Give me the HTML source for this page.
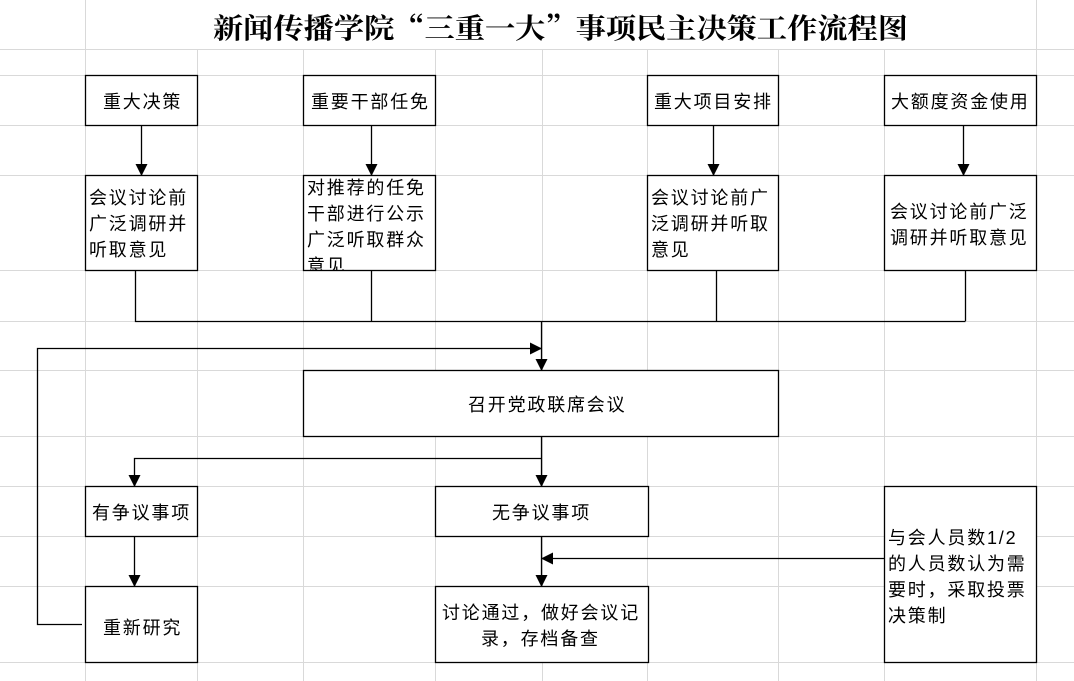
<!DOCTYPE html>
<html><head><meta charset="utf-8"><style>
html,body{margin:0;padding:0;background:#fff;width:1074px;height:681px;overflow:hidden}
text{font-family:"Liberation Sans","Noto Sans CJK SC",sans-serif;font-size:18px;letter-spacing:1.8px;fill:#000}
</style></head><body>
<svg width="1074" height="681" xmlns="http://www.w3.org/2000/svg">
<defs><marker id="a" markerWidth="12" markerHeight="12" refX="11" refY="6" orient="auto" markerUnits="userSpaceOnUse"><path d="M0,0 L12,6 L0,12 Z" fill="#000"/></marker></defs>
<g stroke="#d9d9d9" stroke-width="1">
<line x1="85.5" y1="0" x2="85.5" y2="681"/>
<line x1="197.5" y1="49" x2="197.5" y2="681"/>
<line x1="303.5" y1="49" x2="303.5" y2="681"/>
<line x1="435.5" y1="49" x2="435.5" y2="681"/>
<line x1="542.5" y1="49" x2="542.5" y2="681"/>
<line x1="647.5" y1="49" x2="647.5" y2="681"/>
<line x1="778.5" y1="49" x2="778.5" y2="681"/>
<line x1="884.5" y1="49" x2="884.5" y2="681"/>
<line x1="1036.5" y1="0" x2="1036.5" y2="681"/>
<line x1="0" y1="49.5" x2="1074" y2="49.5"/>
<line x1="0" y1="75.5" x2="1074" y2="75.5"/>
<line x1="0" y1="125.5" x2="1074" y2="125.5"/>
<line x1="0" y1="175.5" x2="1074" y2="175.5"/>
<line x1="0" y1="270.5" x2="1074" y2="270.5"/>
<line x1="0" y1="321.5" x2="1074" y2="321.5"/>
<line x1="0" y1="370.5" x2="1074" y2="370.5"/>
<line x1="0" y1="436.5" x2="1074" y2="436.5"/>
<line x1="0" y1="486.5" x2="1074" y2="486.5"/>
<line x1="0" y1="536.5" x2="1074" y2="536.5"/>
<line x1="0" y1="586.5" x2="1074" y2="586.5"/>
<line x1="0" y1="662.5" x2="1074" y2="662.5"/>
</g>
<text x="213" y="38" style="font-family:'Noto Serif CJK SC',serif;font-size:28px;font-weight:bold;letter-spacing:0" textLength="695" lengthAdjust="spacingAndGlyphs">新闻传播学院“三重一大”事项民主决策工作流程图</text>
<g fill="#fff" stroke="#000" stroke-width="1.3">
<rect x="85.5" y="75.5" width="112" height="50"/>
<rect x="303.5" y="75.5" width="132" height="50"/>
<rect x="647.5" y="75.5" width="131" height="50"/>
<rect x="884.5" y="75.5" width="152" height="50"/>
<rect x="85.5" y="175.5" width="112" height="95"/>
<rect x="303.5" y="175.5" width="132" height="95"/>
<rect x="647.5" y="175.5" width="131" height="95"/>
<rect x="884.5" y="175.5" width="152" height="95"/>
<rect x="303.5" y="370.5" width="475" height="66"/>
<rect x="85.5" y="486.5" width="112" height="50"/>
<rect x="435.5" y="486.5" width="213" height="50"/>
<rect x="85.5" y="586.5" width="112" height="76"/>
<rect x="435.5" y="586.5" width="213" height="76"/>
<rect x="884.5" y="486.5" width="152" height="176"/>
</g>
<g stroke="#000" stroke-width="1.3" fill="none">
<line x1="141.5" y1="126" x2="141.5" y2="175" marker-end="url(#a)"/>
<line x1="371.5" y1="126" x2="371.5" y2="175" marker-end="url(#a)"/>
<line x1="713.5" y1="126" x2="713.5" y2="175" marker-end="url(#a)"/>
<line x1="963.5" y1="126" x2="963.5" y2="175" marker-end="url(#a)"/>
<polyline points="135.5,271 135.5,321.5 965.5,321.5"/>
<line x1="371.5" y1="271" x2="371.5" y2="321"/>
<line x1="716.5" y1="271" x2="716.5" y2="321"/>
<line x1="965.5" y1="271" x2="965.5" y2="321"/>
<line x1="541.5" y1="321" x2="541.5" y2="370" marker-end="url(#a)"/>
<polyline points="82,624.5 37.5,624.5 37.5,348.5 541,348.5" marker-end="url(#a)"/>
<line x1="541.5" y1="437" x2="541.5" y2="486" marker-end="url(#a)"/>
<polyline points="541.5,458.5 134.5,458.5 134.5,486" marker-end="url(#a)"/>
<line x1="134.5" y1="537" x2="134.5" y2="586" marker-end="url(#a)"/>
<line x1="541.5" y1="537" x2="541.5" y2="586" marker-end="url(#a)"/>
<line x1="884" y1="558.5" x2="542" y2="558.5" marker-end="url(#a)"/>
</g>
<text x="103" y="108">重大决策</text>
<text x="311" y="108">重要干部任免</text>
<text x="654" y="108">重大项目安排</text>
<text x="891" y="108">大额度资金使用</text>
<text x="89" y="204">会议讨论前</text>
<text x="89" y="230">广泛调研并</text>
<text x="89" y="256">听取意见</text>
<svg x="304" y="176" width="131" height="94" overflow="hidden">
<text x="3" y="18">对推荐的任免</text>
<text x="3" y="44">干部进行公示</text>
<text x="3" y="70">广泛听取群众</text>
<text x="3" y="96">意见</text>
</svg>
<text x="651" y="204">会议讨论前广</text>
<text x="651" y="230">泛调研并听取</text>
<text x="651" y="256">意见</text>
<text x="890" y="218">会议讨论前广泛</text>
<text x="890" y="244">调研并听取意见</text>
<text x="468" y="411">召开党政联席会议</text>
<text x="92" y="519">有争议事项</text>
<text x="492" y="519">无争议事项</text>
<text x="103" y="634">重新研究</text>
<text x="442" y="619">讨论通过，做好会议记</text>
<text x="481" y="645">录，存档备查</text>
<text x="888" y="544">与会人员数1/2</text>
<text x="888" y="570">的人员数认为需</text>
<text x="888" y="596">要时，采取投票</text>
<text x="888" y="622">决策制</text>
</svg>
</body></html>
